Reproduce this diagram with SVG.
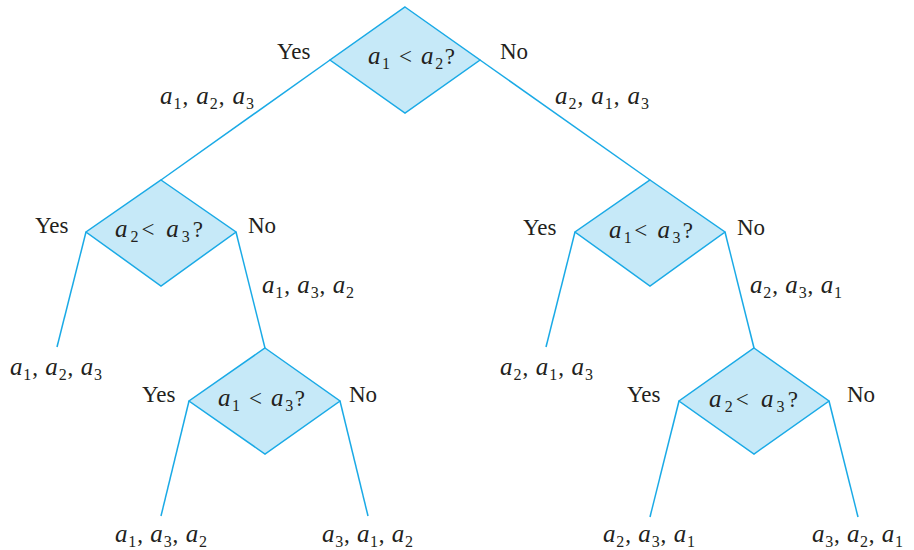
<svg xmlns="http://www.w3.org/2000/svg" width="914" height="550" viewBox="0 0 914 550">
<style>
text{font-family:"Liberation Serif","Times New Roman",serif;font-size:23px;fill:#231f20}
.i{font-style:italic;font-size:25px}
.s{font-size:16px}
.d{fill:#c6e9f8;stroke:#1aaae6;stroke-width:1.5;stroke-linejoin:miter}
.c line{stroke:#1aaae6;stroke-width:1.5}
</style>
<rect width="914" height="550" fill="#fff"/>
<g class="c" id="connectors">
<line x1="330" y1="60" x2="161" y2="180"/>
<line x1="480" y1="60" x2="650" y2="180"/>
<line x1="86" y1="232" x2="57" y2="347"/>
<line x1="236" y1="232" x2="265" y2="348"/>
<line x1="575" y1="232" x2="546" y2="347"/>
<line x1="725" y1="232" x2="754" y2="348"/>
<line x1="189" y1="401" x2="161" y2="516"/>
<line x1="340" y1="401" x2="368" y2="516"/>
<line x1="679" y1="401" x2="650" y2="517"/>
<line x1="829" y1="401" x2="858" y2="517"/>
</g>
<g id="n-root">
<polygon class="d" points="405,7 480,60 405,113 330,60"/>
<text x="368" y="64" textLength="87" lengthAdjust="spacing"><tspan class="i">a</tspan><tspan class="s" dy="5">1</tspan><tspan dy="-5"> &lt;  </tspan><tspan class="i">a</tspan><tspan class="s" dy="5">2</tspan><tspan dy="-5">?</tspan></text>
</g>
<g id="n-left">
<polygon class="d" points="161,180 236,232 161,286 86,232"/>
<text x="115" y="237" textLength="88" lengthAdjust="spacing"><tspan class="i">a</tspan><tspan class="s" dy="5">2</tspan><tspan dy="-5">&lt;  </tspan><tspan class="i">a</tspan><tspan class="s" dy="5">3</tspan><tspan dy="-5">?</tspan></text>
</g>
<g id="n-right">
<polygon class="d" points="650,180 725,232 650,286 575,232"/>
<text x="609" y="238" textLength="84" lengthAdjust="spacing"><tspan class="i">a</tspan><tspan class="s" dy="5">1</tspan><tspan dy="-5">&lt;  </tspan><tspan class="i">a</tspan><tspan class="s" dy="5">3</tspan><tspan dy="-5">?</tspan></text>
</g>
<g id="n-bl">
<polygon class="d" points="265,348 340,401 265,454 189,401"/>
<text x="218" y="406" textLength="87" lengthAdjust="spacing"><tspan class="i">a</tspan><tspan class="s" dy="5">1</tspan><tspan dy="-5"> &lt;  </tspan><tspan class="i">a</tspan><tspan class="s" dy="5">3</tspan><tspan dy="-5">?</tspan></text>
</g>
<g id="n-br">
<polygon class="d" points="754,348 829,401 754,454 679,401"/>
<text x="709" y="407" textLength="89" lengthAdjust="spacing"><tspan class="i">a</tspan><tspan class="s" dy="5">2</tspan><tspan dy="-5">&lt;  </tspan><tspan class="i">a</tspan><tspan class="s" dy="5">3</tspan><tspan dy="-5">?</tspan></text>
</g>
<g id="labels">
<text x="277" y="59">Yes</text>
<text x="500" y="59">No</text>
<text x="35" y="233">Yes</text>
<text x="248" y="233">No</text>
<text x="523" y="235">Yes</text>
<text x="737" y="235">No</text>
<text x="142" y="402">Yes</text>
<text x="349" y="402">No</text>
<text x="627" y="402">Yes</text>
<text x="847" y="402">No</text>
</g>
<g id="edge-labels">
<text x="160" y="104" textLength="94" lengthAdjust="spacing"><tspan class="i">a</tspan><tspan class="s" dy="5">1</tspan><tspan dy="-5">, </tspan><tspan class="i">a</tspan><tspan class="s" dy="5">2</tspan><tspan dy="-5">, </tspan><tspan class="i">a</tspan><tspan class="s" dy="5">3</tspan></text>
<text x="555" y="104" textLength="94" lengthAdjust="spacing"><tspan class="i">a</tspan><tspan class="s" dy="5">2</tspan><tspan dy="-5">, </tspan><tspan class="i">a</tspan><tspan class="s" dy="5">1</tspan><tspan dy="-5">, </tspan><tspan class="i">a</tspan><tspan class="s" dy="5">3</tspan></text>
<text x="262" y="293" textLength="92" lengthAdjust="spacing"><tspan class="i">a</tspan><tspan class="s" dy="5">1</tspan><tspan dy="-5">, </tspan><tspan class="i">a</tspan><tspan class="s" dy="5">3</tspan><tspan dy="-5">, </tspan><tspan class="i">a</tspan><tspan class="s" dy="5">2</tspan></text>
<text x="750" y="293" textLength="92" lengthAdjust="spacing"><tspan class="i">a</tspan><tspan class="s" dy="5">2</tspan><tspan dy="-5">, </tspan><tspan class="i">a</tspan><tspan class="s" dy="5">3</tspan><tspan dy="-5">, </tspan><tspan class="i">a</tspan><tspan class="s" dy="5">1</tspan></text>
</g>
<g id="leaves">
<text x="10" y="375" textLength="92" lengthAdjust="spacing"><tspan class="i">a</tspan><tspan class="s" dy="5">1</tspan><tspan dy="-5">, </tspan><tspan class="i">a</tspan><tspan class="s" dy="5">2</tspan><tspan dy="-5">, </tspan><tspan class="i">a</tspan><tspan class="s" dy="5">3</tspan></text>
<text x="500" y="375" textLength="93" lengthAdjust="spacing"><tspan class="i">a</tspan><tspan class="s" dy="5">2</tspan><tspan dy="-5">, </tspan><tspan class="i">a</tspan><tspan class="s" dy="5">1</tspan><tspan dy="-5">, </tspan><tspan class="i">a</tspan><tspan class="s" dy="5">3</tspan></text>
<text x="115" y="542" textLength="92" lengthAdjust="spacing"><tspan class="i">a</tspan><tspan class="s" dy="5">1</tspan><tspan dy="-5">, </tspan><tspan class="i">a</tspan><tspan class="s" dy="5">3</tspan><tspan dy="-5">, </tspan><tspan class="i">a</tspan><tspan class="s" dy="5">2</tspan></text>
<text x="322" y="542" textLength="91" lengthAdjust="spacing"><tspan class="i">a</tspan><tspan class="s" dy="5">3</tspan><tspan dy="-5">, </tspan><tspan class="i">a</tspan><tspan class="s" dy="5">1</tspan><tspan dy="-5">, </tspan><tspan class="i">a</tspan><tspan class="s" dy="5">2</tspan></text>
<text x="603" y="542" textLength="92" lengthAdjust="spacing"><tspan class="i">a</tspan><tspan class="s" dy="5">2</tspan><tspan dy="-5">, </tspan><tspan class="i">a</tspan><tspan class="s" dy="5">3</tspan><tspan dy="-5">, </tspan><tspan class="i">a</tspan><tspan class="s" dy="5">1</tspan></text>
<text x="812" y="542" textLength="91" lengthAdjust="spacing"><tspan class="i">a</tspan><tspan class="s" dy="5">3</tspan><tspan dy="-5">, </tspan><tspan class="i">a</tspan><tspan class="s" dy="5">2</tspan><tspan dy="-5">, </tspan><tspan class="i">a</tspan><tspan class="s" dy="5">1</tspan></text>
</g>
</svg>
